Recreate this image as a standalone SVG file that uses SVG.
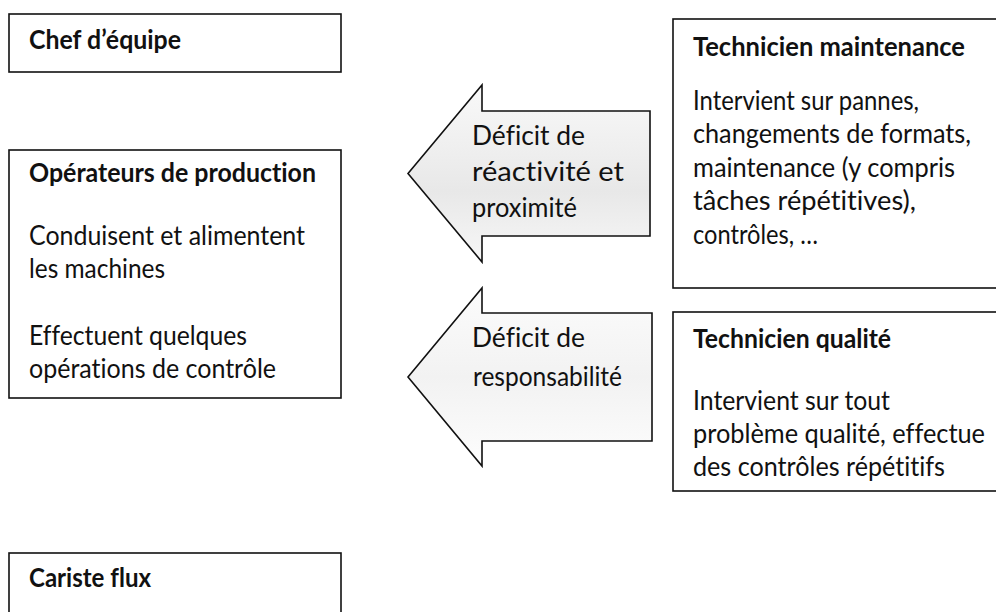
<svg xmlns="http://www.w3.org/2000/svg" width="996" height="612" viewBox="0 0 996 612">
<style>
  .box { fill: #ffffff; stroke: #111111; stroke-width: 1.6; }
  .arrow { stroke: #111111; stroke-width: 1.6; stroke-linejoin: miter; }
  text { font-family: Lato, "Open Sans", "Liberation Sans", sans-serif; font-size: 26px; fill: #111111; font-variant-ligatures: none; font-feature-settings: "liga" 0, "clig" 0; }
  .title { font-weight: bold; }
</style>
<defs>
  <linearGradient id="g1" x1="0" y1="0" x2="0" y2="1">
    <stop offset="0" stop-color="#f9f9f9"/>
    <stop offset="0.6" stop-color="#e8e8e8"/>
    <stop offset="1" stop-color="#f7f7f7"/>
  </linearGradient>
  <linearGradient id="g2" x1="0" y1="0" x2="0" y2="1">
    <stop offset="0" stop-color="#fcfcfc"/>
    <stop offset="0.5" stop-color="#f2f2f2"/>
    <stop offset="1" stop-color="#fdfdfd"/>
  </linearGradient>
</defs>
<rect width="996" height="612" fill="#ffffff"/>

<g id="chef">
  <rect class="box" x="9" y="14" width="332" height="58"/>
  <text class="title" x="29" y="49" textLength="152" lengthAdjust="spacingAndGlyphs">Chef d’équipe</text>
</g>

<g id="operateurs">
  <rect class="box" x="9" y="150" width="332" height="248"/>
  <text class="title" x="29" y="182" textLength="287" lengthAdjust="spacingAndGlyphs">Opérateurs de production</text>
  <text x="29" y="245" textLength="276" lengthAdjust="spacingAndGlyphs">Conduisent et alimentent</text>
  <text x="29" y="278" textLength="136" lengthAdjust="spacingAndGlyphs">les machines</text>
  <text x="29" y="345" textLength="218" lengthAdjust="spacingAndGlyphs">Effectuent quelques</text>
  <text x="29" y="378" textLength="247" lengthAdjust="spacingAndGlyphs">opérations de contrôle</text>
</g>

<g id="cariste">
  <rect class="box" x="9" y="553" width="332" height="70"/>
  <text class="title" x="29" y="587" textLength="122" lengthAdjust="spacingAndGlyphs">Cariste flux</text>
</g>

<g id="maintenance">
  <rect class="box" x="673" y="19" width="340" height="269"/>
  <text class="title" x="693" y="56" textLength="272" lengthAdjust="spacingAndGlyphs">Technicien maintenance</text>
  <text x="693" y="110" textLength="226" lengthAdjust="spacingAndGlyphs">Intervient sur pannes,</text>
  <text x="693" y="143" textLength="278" lengthAdjust="spacingAndGlyphs">changements de formats,</text>
  <text x="693" y="177" textLength="262" lengthAdjust="spacingAndGlyphs">maintenance (y compris</text>
  <text x="693" y="210" textLength="223" lengthAdjust="spacingAndGlyphs">tâches répétitives),</text>
  <text x="693" y="244" textLength="125" lengthAdjust="spacingAndGlyphs">contrôles, …</text>
</g>

<g id="qualite">
  <rect class="box" x="673" y="312" width="340" height="179"/>
  <text class="title" x="693" y="348" textLength="198" lengthAdjust="spacingAndGlyphs">Technicien qualité</text>
  <text x="693" y="410" textLength="197" lengthAdjust="spacingAndGlyphs">Intervient sur tout</text>
  <text x="693" y="443" textLength="292" lengthAdjust="spacingAndGlyphs">problème qualité, effectue</text>
  <text x="693" y="476" textLength="252" lengthAdjust="spacingAndGlyphs">des contrôles répétitifs</text>
</g>

<g id="connectors">
  <g id="arrow-reactivite">
    <path class="arrow" fill="url(#g1)" d="M408,173.5 L482,85 L482,111 L650,111 L650,236 L482,236 L482,262 Z"/>
    <text x="472" y="145" textLength="113" lengthAdjust="spacingAndGlyphs">Déficit de</text>
    <text x="472" y="181" textLength="152" lengthAdjust="spacingAndGlyphs">réactivité et</text>
    <text x="472" y="217" textLength="105" lengthAdjust="spacingAndGlyphs">proximité</text>
  </g>
  <g id="arrow-responsabilite">
    <path class="arrow" fill="url(#g2)" d="M408,377 L482,288 L482,313 L652,313 L652,441 L482,441 L482,466 Z"/>
    <text x="472" y="347" textLength="113" lengthAdjust="spacingAndGlyphs">Déficit de</text>
    <text x="473" y="386" textLength="149" lengthAdjust="spacingAndGlyphs">responsabilité</text>
  </g>
</g>
</svg>
